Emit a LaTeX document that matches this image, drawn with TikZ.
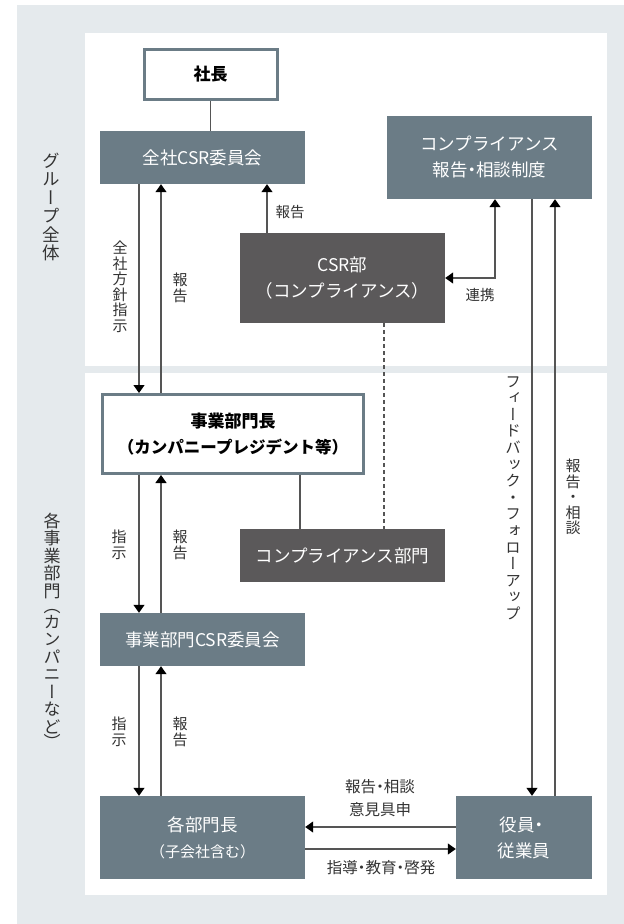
\documentclass[tikz,border=0pt]{standalone}
\usepackage{fontspec}
\setmainfont{Noto Sans CJK JP}
\newfontfamily\vfont[RawFeature=+vert]{Noto Sans CJK JP}
\usetikzlibrary{arrows.meta,calc}
\definecolor{bgc}{HTML}{E5EAED}
\definecolor{slate}{HTML}{6B7C86}
\definecolor{darkbox}{HTML}{5B595A}
\definecolor{lnc}{HTML}{555555}
\definecolor{txc}{HTML}{333333}
\newcommand\nkg{\kern-.25em・\kern-.25em}
\tikzset{
  slatebox/.style={fill=slate, text=white, inner sep=0pt, align=center,
    font=\fontsize{17.5}{26}\selectfont},
  darkbx/.style={fill=darkbox, text=white, inner sep=0pt, align=center,
    font=\fontsize{17.5}{26}\selectfont},
  whitebox/.style={fill=white, draw=slate, line width=3pt, inner sep=0pt, align=center,
    text=black, font=\fontsize{17}{26}\selectfont\bfseries},
  ln/.style={draw=lnc, line width=1.2pt},
  arr/.style={ln, -{Triangle[width=11pt,length=8pt,fill=black,color=black]}},
  darr/.style={ln, {Triangle[width=11pt,length=8pt,fill=black,color=black]}-{Triangle[width=11pt,length=8pt,fill=black,color=black]}},
  vlab/.style={text=txc, align=center, inner sep=0pt, font=\fontsize{15}{15.5}\vfont},
  hlab/.style={text=txc, align=center, inner sep=0pt, font=\fontsize{15.5}{23}\selectfont},
}
\begin{document}
\begin{tikzpicture}[x=1pt,y=-1pt]
\useasboundingbox (0,0) rectangle (624,924);
\fill[bgc] (17,5) rectangle (624,924);
\fill[white] (85,33) rectangle (607,366);
\fill[white] (85,373) rectangle (607,895);

% x positions
\coordinate (x139) at (139,0);
\coordinate (x161) at (161,0);
\coordinate (x267) at (267,0);
\coordinate (x300) at (300,0);
\coordinate (x384) at (384,0);
\coordinate (x495) at (495,0);
\coordinate (x532) at (532,0);
\coordinate (x555) at (555,0);
\coordinate (y827) at (0,827);
\coordinate (y849) at (0,849);

% nodes
\node[whitebox, minimum width=133pt, minimum height=50pt] (shacho) at (210.5,74.5) {社長};
\node[slatebox, minimum width=205pt, minimum height=53pt] (zensha) at (202.5,157.5) {全社CSR委員会};
\node[slatebox, minimum width=205pt, minimum height=83pt] (compsys) at (489.5,157.5) {コンプライアンス\\報告\nkg 相談制度};
\node[darkbx, minimum width=205pt, minimum height=90pt] (csr) at (342.5,278) {CSR部\\（コンプライアンス）};
\node[whitebox, minimum width=261pt, minimum height=79pt] (jigyo) at (233,434) {事業部門長\\{\fontsize{16.5}{26}\selectfont（カンパニープレジデント等）}};
\node[darkbx, minimum width=205pt, minimum height=53pt] (compdiv) at (342.5,555.5) {コンプライアンス部門};
\node[slatebox, minimum width=205pt, minimum height=53pt] (jcsr) at (202.5,639.5) {事業部門CSR委員会};
\node[slatebox, minimum width=205pt, minimum height=83pt] (bumon) at (202.5,837.5) {各部門長\\{\fontsize{15}{20}\selectfont（子会社含む）}};
\node[slatebox, minimum width=136pt, minimum height=83pt] (yakuin) at (524,837.5) {役員\nkg\kern.25em\\従業員};

% side labels
\node[vlab, font=\fontsize{17.5}{18.5}\vfont] (grp) at (51,207) {グ\\ル\\ー\\プ\\全\\体};
\node[vlab, font=\fontsize{17}{17.5}\vfont] (div) at (52,631) {各\\事\\業\\部\\門\\[-2pt]（\\[-2pt]カ\\ン\\パ\\ニ\\ー\\な\\ど\\[-2pt]）};

% connector labels
\node[vlab] (l1) at (120,287) {全\\社\\方\\針\\指\\示};
\node[vlab] (l2) at (180,288) {報\\告};
\node[hlab, font=\fontsize{14.5}{20}\selectfont] (l3) at (290,212) {報告};
\node[hlab, font=\fontsize{14.5}{20}\selectfont] (l4) at (480,295) {連携};
\node[vlab, font=\fontsize{15.5}{16.6}\vfont] (l5) at (513,498) {フ\\ィ\\ー\\ド\\バ\\ッ\\ク\\・\\フ\\ォ\\ロ\\ー\\ア\\ッ\\プ};
\node[vlab] (l6) at (573,497) {報\\告\\・\\相\\談};
\node[vlab] (l7) at (119,545) {指\\示};
\node[vlab] (l8) at (180,545) {報\\告};
\node[vlab] (l9) at (119,732) {指\\示};
\node[vlab] (l10) at (180,732) {報\\告};
\node[hlab] (l11) at (380,798) {報告\nkg 相談\\意見具申};
\node[hlab] (l12) at (381,868) {指導\nkg 教育\nkg 啓発};

% connectors
\draw[ln] (shacho.south) -- (shacho.south |- zensha.north);
\draw[arr] (zensha.south -| x139) -- (jigyo.north -| x139);
\draw[arr] (jigyo.north -| x161) -- (zensha.south -| x161);
\draw[arr] (csr.north -| x267) -- (zensha.south -| x267);
\draw[darr] (csr.east) -| (compsys.south -| x495);
\draw[ln, dash pattern=on 4pt off 3pt] (csr.south -| x384) -- (compdiv.north -| x384);
\draw[ln] (jigyo.south -| x300) -- (compdiv.north -| x300);
\draw[arr] (compsys.south -| x532) -- (yakuin.north -| x532);
\draw[arr] (yakuin.north -| x555) -- (compsys.south -| x555);
\draw[arr] (jigyo.south -| x139) -- (jcsr.north -| x139);
\draw[arr] (jcsr.north -| x161) -- (jigyo.south -| x161);
\draw[arr] (jcsr.south -| x139) -- (bumon.north -| x139);
\draw[arr] (bumon.north -| x161) -- (jcsr.south -| x161);
\draw[arr] (yakuin.west |- y827) -- (bumon.east |- y827);
\draw[arr] (bumon.east |- y849) -- (yakuin.west |- y849);
\end{tikzpicture}
\end{document}
